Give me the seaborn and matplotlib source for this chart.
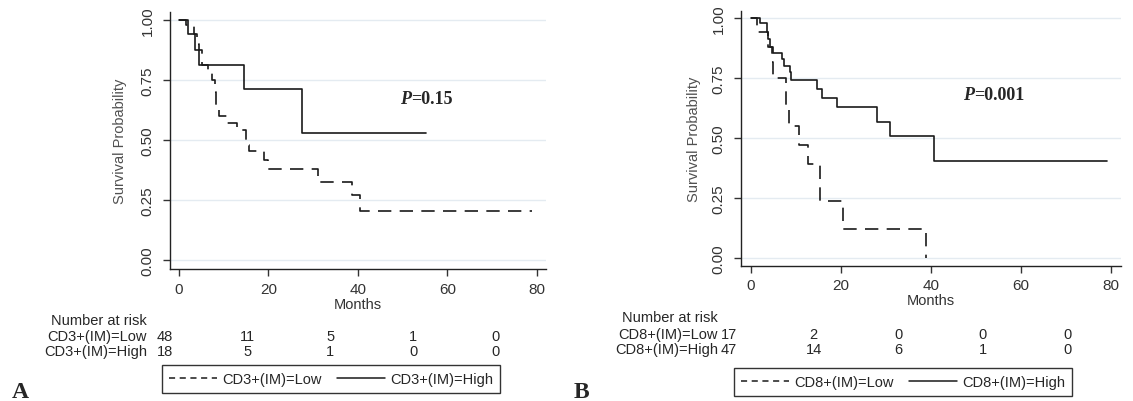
import matplotlib
matplotlib.use("Agg")
import matplotlib.pyplot as plt
from matplotlib.lines import Line2D
import seaborn as sns
import pandas as pd

# Panel A: CD3+(IM)
a_low_t = [0, 1.6, 3.4, 4.0, 4.5, 5.1, 6.6, 7.5, 8.0, 8.4, 8.9, 10.7, 12.9, 15.0, 15.7, 19.0, 20.0, 31.0, 38.6, 40.6, 79.0]
a_low_s = [1.0, 0.98, 0.94, 0.90, 0.875, 0.81, 0.79, 0.75, 0.70, 0.625, 0.60, 0.57, 0.54, 0.48, 0.455, 0.415, 0.38, 0.325, 0.27, 0.205, 0.205]
a_high_t = [0, 2.1, 3.7, 4.4, 14.5, 27.6, 55.2]
a_high_s = [1.0, 0.94, 0.875, 0.81, 0.71, 0.53, 0.53]

# Panel B: CD8+(IM)
b_low_t = [0, 1.3, 3.7, 4.7, 5.0, 7.8, 8.5, 10.7, 12.7, 15.3, 20.5, 38.9]
b_low_s = [1.0, 0.94, 0.88, 0.815, 0.75, 0.625, 0.55, 0.47, 0.39, 0.235, 0.122, 0.0]
b_high_t = [0, 2.0, 3.5, 3.9, 4.2, 5.0, 6.8, 7.3, 8.7, 9.0, 14.6, 15.7, 19.2, 27.9, 31.0, 40.7, 79.0]
b_high_s = [1.0, 0.978, 0.94, 0.91, 0.878, 0.853, 0.83, 0.80, 0.774, 0.742, 0.704, 0.667, 0.628, 0.568, 0.508, 0.404, 0.404]

x_ticks = [0, 20, 40, 60, 80]
y_ticks = [0.0, 0.25, 0.5, 0.75, 1.0]

a_labels = ["CD3+(IM)=Low", "CD3+(IM)=High"]
b_labels = ["CD8+(IM)=Low", "CD8+(IM)=High"]
a_risk_low = [48, 11, 5, 1, 0]
a_risk_high = [18, 5, 1, 0, 0]
b_risk_low = [17, 2, 0, 0, 0]
b_risk_high = [47, 14, 6, 1, 0]
p_values = ["=0.15", "=0.001"]

sns.set_theme(style="ticks")
plt.rcParams["font.family"] = ["Liberation Sans", "DejaVu Sans"]

W, H = 1133, 402
fig = plt.figure(figsize=(W / 100, H / 100), dpi=100)


def fx(x):
    return x / W


def fy(y):
    return 1 - y / H


def km_frame(times_low, surv_low, times_high, surv_high, labels):
    df_low = pd.DataFrame({"Months": times_low, "Survival": surv_low, "Group": labels[0]})
    df_high = pd.DataFrame({"Months": times_high, "Survival": surv_high, "Group": labels[1]})
    return pd.concat([df_low, df_high], ignore_index=True)


def draw_panel(rect, df, labels, xlim, ylim, ylabelpad, p_text, p_xy):
    ax = fig.add_axes(rect)
    sns.lineplot(data=df, x="Months", y="Survival", style="Group", style_order=labels,
                 dashes={labels[0]: (8, 5), labels[1]: ""}, color="#1a1a1a",
                 linewidth=1.2, drawstyle="steps-post", estimator=None, sort=False,
                 legend=False, ax=ax)
    ax.set_xlim(*xlim)
    ax.set_ylim(*ylim)
    ax.set_xticks(x_ticks)
    ax.set_yticks(y_ticks)
    ax.set_yticklabels([f"{v:.2f}" for v in y_ticks], rotation=90, va="center")
    ax.tick_params(axis="both", labelsize=11, colors="#333333", length=5, width=1, pad=4)
    ax.tick_params(axis="y", pad=6)
    ax.yaxis.grid(True, color="#e4ebf1", linewidth=1)
    ax.xaxis.grid(False)
    for side in ["top", "right"]:
        ax.spines[side].set_visible(False)
    for side in ["left", "bottom"]:
        ax.spines[side].set_color("#222222")
        ax.spines[side].set_linewidth(1)
    ax.set_xlabel("Months", fontsize=10.5, color="#333333", labelpad=1)
    ax.set_ylabel("Survival Probability", fontsize=10.5, color="#505050", labelpad=ylabelpad)
    t1 = ax.text(p_xy[0], p_xy[1], "P", fontsize=13, fontweight="bold", fontstyle="italic",
                 family="Liberation Serif", va="baseline")
    ax.annotate(p_text, xy=(1, 0), xycoords=t1, va="bottom", fontsize=13,
                fontweight="bold", family="Liberation Serif")
    return ax


def draw_risk(label_right, x0, dx, ys, labels, low, high):
    fig.text(fx(label_right), fy(ys[0]), "Number at risk", ha="right", va="center", fontsize=10.5)
    for row, y, vals in [(labels[0], ys[1], low), (labels[1], ys[2], high)]:
        fig.text(fx(label_right), fy(y), row, ha="right", va="center", fontsize=10.5)
        for i, v in enumerate(vals):
            fig.text(fx(x0 + i * dx), fy(y), str(v), ha="center", va="center", fontsize=10.5)


def draw_legend(labels, center):
    handles = [Line2D([], [], color="#1a1a1a", linewidth=1.1, dashes=(4, 3)),
               Line2D([], [], color="#1a1a1a", linewidth=1.1)]
    leg = fig.legend(handles, labels, loc="center", bbox_to_anchor=(fx(center[0]), fy(center[1])),
                     ncol=2, frameon=True, fancybox=False, edgecolor="black", fontsize=10.5,
                     handlelength=3.3, columnspacing=1.0, handletextpad=0.4, borderpad=0.45,
                     borderaxespad=0)
    leg.get_frame().set_linewidth(1)


df_a = km_frame(a_low_t, a_low_s, a_high_t, a_high_s, a_labels)
df_b = km_frame(b_low_t, b_low_s, b_high_t, b_high_s, b_labels)

draw_panel([0.150, 0.328, 0.332, 0.640], df_a, a_labels, (-2.0, 82.1), (-0.0375, 1.033),
           10, p_values[0], (49.4, 0.654))
draw_panel([0.654, 0.337, 0.335, 0.634], df_b, b_labels, (-2.2, 82.1), (-0.032, 1.03),
           8, p_values[1], (47.2, 0.6625))

draw_risk(147, 165, 82.7, [320.7, 337.3, 351.7], a_labels, a_risk_low, a_risk_high)
draw_risk(718, 729, 84.6, [318, 335, 350], b_labels, b_risk_low, b_risk_high)

draw_legend(a_labels, (331, 380))
draw_legend(b_labels, (903, 383))

fig.text(fx(20), fy(393), "A", fontsize=17, fontweight="bold", family="Liberation Serif",
         ha="center", va="center")
fig.text(fx(581), fy(393), "B", fontsize=17, fontweight="bold", family="Liberation Serif",
         ha="center", va="center")

fig.savefig("out.png", dpi=100, facecolor="white")
